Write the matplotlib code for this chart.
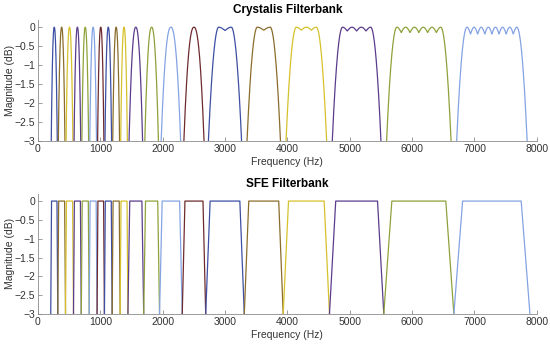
import numpy as np
import matplotlib.pyplot as plt
from matplotlib.ticker import FuncFormatter

plt.rcParams['font.family'] = ['Liberation Sans', 'DejaVu Sans']

# band edges in Hz, 20 bands
edges = [205, 318, 442, 570, 695, 822, 948, 1066, 1190, 1318, 1443,
         1696, 1950, 2314, 2690, 3309, 3933, 4675, 5546, 6670, 7890]
# Crystalis bands: bumps on the top of each band and ripple depth (dB)
bumps = [1]*14 + [2, 2, 3, 4, 6, 8]
ripple = [0]*14 + [0.09, 0.08, 0.08, 0.10, 0.14, 0.18]

xticks = [0, 1000, 2000, 3000, 4000, 5000, 6000, 7000, 8000]
yticks = [-3, -2.5, -2, -1.5, -1, -0.5, 0]

colors = ['#3D4FA3', '#8A6D2C', '#D6C12D', '#5B3C8D', '#8EA23B', '#84A3E3', '#6E2B2E']

f = np.linspace(0, 8000, 16001)


def crystalis(lo, hi, n, r):
    bw = hi - lo
    shrink = min(0.07*bw, 45)
    a, b = lo + shrink, hi - shrink
    if n == 1:
        fc = (a + b)/2
        hw = (b - a)/2
        y = -3*np.abs((f - fc)/hw)**2.3
    else:
        e = 165
        x0, x1 = a + e, b - e
        d = (x1 - x0)/(n - 1)
        y = -r*(1 - np.abs(np.cos(np.pi*(f - x0)/d)))
        y = np.where(f < x0, -3*((f - x0)/e)**2, y)
        y = np.where(f > x1, -3*((f - x1)/e)**2, y)
    y[y < -4] = np.nan
    return y


def style(ax, title):
    ax.set_xlim(0, 8000)
    ax.set_ylim(-3, 0.2)
    ax.set_xticks(xticks)
    ax.set_yticks(yticks)
    ax.yaxis.set_major_formatter(FuncFormatter(lambda v, p: ('%g' % v).replace('-', '\u2212')))
    for s in ['top', 'right']:
        ax.spines[s].set_visible(False)
    for s in ['left', 'bottom']:
        ax.spines[s].set_color('#8c8c8c')
        ax.spines[s].set_linewidth(0.6)
    ax.tick_params(direction='in', length=3, width=0.6, color='#8c8c8c',
                   labelsize=7.5, labelcolor='#333333', pad=2)
    ax.set_title(title, fontsize=8.5, fontweight='bold', color='black', pad=5)
    ax.set_xlabel('Frequency (Hz)', fontsize=7.5, color='#333333', labelpad=2)
    ax.set_ylabel('Magnitude (dB)', fontsize=7.5, color='#333333')
    ax.yaxis.set_label_coords(-0.046, 0.5)


fig = plt.figure(figsize=(5.5, 3.5), dpi=100)
ax1 = fig.add_axes([0.069, 0.597, 0.907, 0.347])
ax2 = fig.add_axes([0.069, 0.103, 0.907, 0.344])

for k in range(len(edges) - 1):
    lo, hi = edges[k], edges[k+1]
    c = colors[k % len(colors)]
    ax1.plot(f, crystalis(lo, hi, bumps[k], ripple[k]), color=c, lw=0.9)
    s = 0.115*(hi - lo)
    ax2.plot([lo, lo + s, hi - s, hi], [-3, 0, 0, -3], color=c, lw=0.9)

style(ax1, 'Crystalis Filterbank')
style(ax2, 'SFE Filterbank')

fig.savefig('out.png', dpi=100)
